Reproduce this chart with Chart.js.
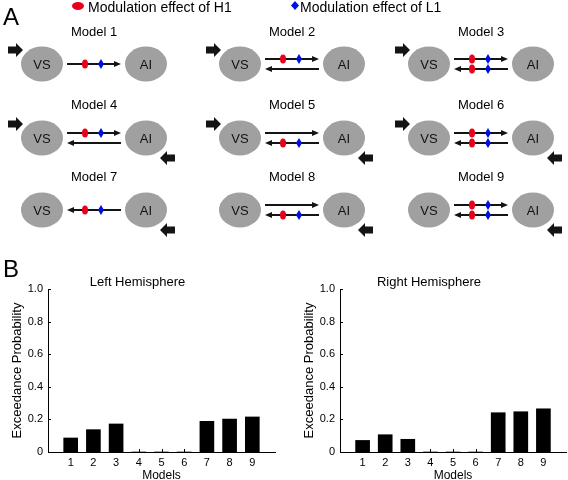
<!DOCTYPE html>
<html>
<head>
<meta charset="utf-8">
<script src="https://cdn.jsdelivr.net/npm/chart.js@4"></script>
<style>
  html, body { margin: 0; padding: 0; background: #fff; overflow: hidden; }
  #page { position: relative; width: 568px; height: 480px; }
  #diagram { position: absolute; left: 0; top: 0; }
  .box { position: absolute; top: 250px; height: 230px; }
  #leftBox { left: 0; width: 284px; }
  #rightBox { left: 292px; width: 276px; }
</style>
</head>
<body>
<div id="page">
  <canvas id="diagram" width="568" height="480"></canvas>
  <div class="box" id="leftBox"><canvas id="leftChart"></canvas></div>
  <div class="box" id="rightBox"><canvas id="rightChart"></canvas></div>
</div>
<script>
// Panel B data
const modelNumbers = [1, 2, 3, 4, 5, 6, 7, 8, 9];
const leftValues = [0.086, 0.137, 0.172, 0, 0, 0, 0.188, 0.202, 0.215];
const rightValues = [0.071, 0.106, 0.078, 0, 0, 0, 0.241, 0.247, 0.265];
const yTicks = [0, 0.2, 0.4, 0.6, 0.8, 1.0];

// Panel A: model structure (0 = no link, 1 = plain link, 2 = modulated link)
const forwardLink = [2, 2, 2, 2, 1, 2, 0, 1, 2];
const backwardLink = [0, 1, 2, 1, 2, 2, 2, 2, 2];
const inputVS = [1, 1, 1, 1, 1, 1, 0, 0, 0];
const inputAI = [0, 0, 0, 1, 1, 1, 1, 1, 1];

const FONT = '"Liberation Sans", Arial, Helvetica, sans-serif';
const RED = '#e8001c';
const BLUE = '#0010e0';
const GRAY = '#a0a0a0';
const INK = '#141414';

Chart.defaults.font.family = FONT;
Chart.defaults.color = '#000';

// --- panel A diagram (plain canvas) ---
const colX = [94, 292, 481];
const rowY = [64, 138, 210];
const titleY = [32, 105, 177];

function redDot(ctx, x, y, rx, ry) {
    ctx.fillStyle = RED;
    ctx.beginPath();
    ctx.ellipse(x, y, rx, ry, 0, 0, Math.PI * 2);
    ctx.fill();
}

function blueDiamond(ctx, x, y, hw, hh) {
    ctx.fillStyle = BLUE;
    ctx.beginPath();
    ctx.moveTo(x, y - hh);
    ctx.lineTo(x + hw, y);
    ctx.lineTo(x, y + hh);
    ctx.lineTo(x - hw, y);
    ctx.closePath();
    ctx.fill();
}

function drawLink(ctx, cx, y, dir, kind) {
    const tail = cx - 27 * dir, tip = cx + 27 * dir;
    ctx.strokeStyle = INK;
    ctx.fillStyle = INK;
    ctx.lineWidth = 2;
    ctx.beginPath();
    ctx.moveTo(tail, y);
    ctx.lineTo(tip - 6 * dir, y);
    ctx.stroke();
    ctx.beginPath();
    ctx.moveTo(tip, y);
    ctx.lineTo(tip - 7 * dir, y - 3);
    ctx.lineTo(tip - 7 * dir, y + 3);
    ctx.closePath();
    ctx.fill();
    if (kind === 2) {
        redDot(ctx, cx - 9, y, 3, 4.5);
        blueDiamond(ctx, cx + 7, y, 3, 5);
    }
}

// block arrow, tip at (x, y), dir 1 = right, -1 = left
function inputArrow(ctx, x, y, dir) {
    ctx.fillStyle = INK;
    ctx.beginPath();
    ctx.moveTo(x, y);
    ctx.lineTo(x - 7 * dir, y - 7);
    ctx.lineTo(x - 7 * dir, y - 3.5);
    ctx.lineTo(x - 15 * dir, y - 3.5);
    ctx.lineTo(x - 15 * dir, y + 3.5);
    ctx.lineTo(x - 7 * dir, y + 3.5);
    ctx.lineTo(x - 7 * dir, y + 7);
    ctx.closePath();
    ctx.fill();
}

function drawDiagram() {
    const ctx = document.getElementById('diagram').getContext('2d');
    ctx.textBaseline = 'alphabetic';
    ctx.fillStyle = '#000';
    ctx.font = '24px ' + FONT;
    ctx.fillText('A', 3, 25);
    ctx.fillText('B', 3, 277);

    // legend
    redDot(ctx, 78, 6, 6, 4);
    blueDiamond(ctx, 295, 5.5, 4, 4.5);
    ctx.fillStyle = '#000';
    ctx.font = '14px ' + FONT;
    ctx.fillText('Modulation effect of H1', 88, 12);
    ctx.fillText('Modulation effect of L1', 300, 12);

    for (let i = 0; i < 9; i++) {
        const cx = colX[i % 3];
        const r = Math.floor(i / 3);
        const cy = rowY[r];
        const vs = cx - 52, ai = cx + 52;

        ctx.fillStyle = '#000';
        ctx.font = '13px ' + FONT;
        ctx.textAlign = 'center';
        ctx.textBaseline = 'middle';
        ctx.fillText('Model ' + (i + 1), cx, titleY[r]);

        ctx.fillStyle = GRAY;
        ctx.beginPath();
        ctx.ellipse(vs, cy, 21, 17.5, 0, 0, Math.PI * 2);
        ctx.fill();
        ctx.beginPath();
        ctx.ellipse(ai, cy, 21, 17.5, 0, 0, Math.PI * 2);
        ctx.fill();
        ctx.fillStyle = '#111';
        ctx.fillText('VS', vs, cy + 1);
        ctx.fillText('AI', ai, cy + 1);
        ctx.textAlign = 'left';
        ctx.textBaseline = 'alphabetic';

        const both = forwardLink[i] && backwardLink[i];
        if (forwardLink[i]) drawLink(ctx, cx, both ? cy - 5 : cy, 1, forwardLink[i]);
        if (backwardLink[i]) drawLink(ctx, cx, both ? cy + 5 : cy, -1, backwardLink[i]);

        if (inputVS[i]) inputArrow(ctx, vs - 19, cy - 14, 1);
        if (inputAI[i]) inputArrow(ctx, ai + 14, cy + 20, -1);
    }
}

// --- panel B bar charts ---
const innerTicks = {
    id: 'innerTicks',
    afterDraw(chart) {
        const {ctx, chartArea, scales: {x, y}} = chart;
        ctx.save();
        ctx.strokeStyle = '#000';
        ctx.lineWidth = 1;
        ctx.beginPath();
        yTicks.forEach(v => {
            const py = Math.round(y.getPixelForValue(v)) + 0.5;
            ctx.moveTo(chartArea.left, py);
            ctx.lineTo(chartArea.left + 3, py);
        });
        modelNumbers.forEach(v => {
            const px = Math.round(x.getPixelForValue(v)) + 0.5;
            ctx.moveTo(px, chartArea.bottom);
            ctx.lineTo(px, chartArea.bottom - 3);
        });
        ctx.stroke();
        ctx.restore();
    }
};

function makeChart(id, title, values, rightPad) {
    return new Chart(document.getElementById(id), {
        type: 'bar',
        data: {
            datasets: [{
                data: modelNumbers.map((m, i) => ({x: m, y: values[i]})),
                backgroundColor: '#000',
                borderWidth: 0,
                barThickness: 14
            }]
        },
        options: {
            responsive: true,
            maintainAspectRatio: false,
            animation: false,
            layout: {padding: {left: 0, right: rightPad, top: 0, bottom: 0}},
            plugins: {
                legend: {display: false},
                tooltip: {enabled: false},
                title: {
                    display: true,
                    text: title,
                    color: '#000',
                    font: {size: 13, weight: 'normal', lineHeight: 1},
                    padding: {top: 25.5, bottom: 0.5}
                }
            },
            scales: {
                x: {
                    type: 'linear',
                    min: 0,
                    max: 10,
                    offset: false,
                    afterBuildTicks: s => { s.ticks = modelNumbers.map(v => ({value: v})); },
                    grid: {display: false, drawTicks: false},
                    border: {display: true, color: '#000', width: 1},
                    ticks: {color: '#000', font: {size: 11}, padding: 4, autoSkip: false, maxRotation: 0,
                            callback: v => String(v)},
                    title: {display: true, text: 'Models', color: '#000',
                            font: {size: 12, lineHeight: 0.7}, padding: 0},
                    afterFit: s => { s.height = 28; }
                },
                y: {
                    min: 0,
                    max: 1,
                    afterBuildTicks: s => { s.ticks = yTicks.map(v => ({value: v})); },
                    grid: {display: false, drawTicks: false},
                    border: {display: true, color: '#000', width: 1},
                    ticks: {color: '#000', font: {size: 11}, padding: 5,
                            callback: v => v === 0 ? '0' : v.toFixed(1)},
                    title: {display: true, text: 'Exceedance Probability', color: '#000',
                            font: {size: 13, lineHeight: 1}, padding: {top: 10.5, bottom: 0}},
                    afterFit: s => { s.width = 48; }
                }
            }
        },
        plugins: [innerTicks]
    });
}

drawDiagram();
makeChart('leftChart', 'Left Hemisphere', leftValues, 9);
makeChart('rightChart', 'Right Hemisphere', rightValues, 2);
</script>
</body>
</html>
